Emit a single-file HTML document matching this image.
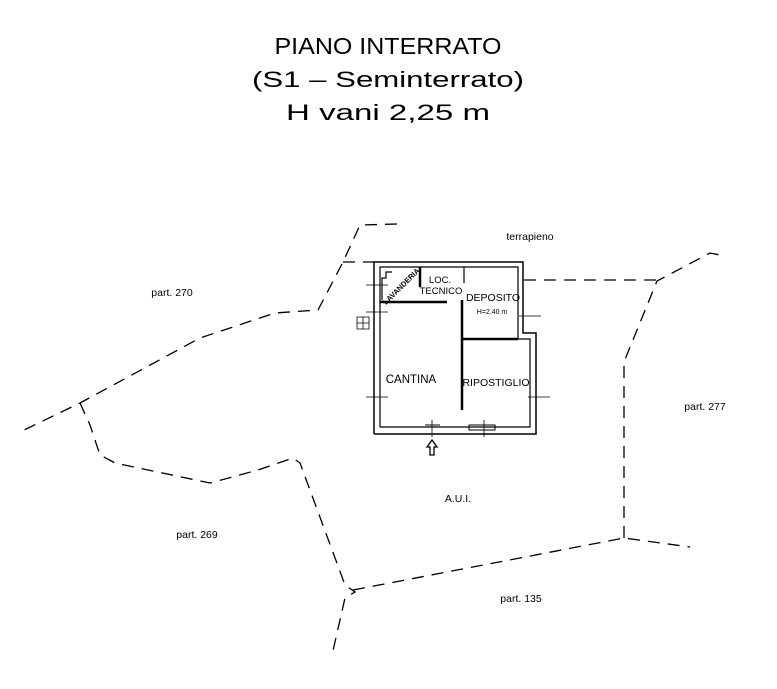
<!DOCTYPE html>
<html><head><meta charset="utf-8"><style>html,body{margin:0;padding:0;background:#fff}svg{display:block}</style></head>
<body>
<svg width="777" height="689" viewBox="0 0 777 689" xmlns="http://www.w3.org/2000/svg" font-family="Liberation Sans, sans-serif">
<g fill="#000" text-anchor="middle">
<text x="388" y="54" font-size="23" textLength="227" lengthAdjust="spacingAndGlyphs">PIANO  INTERRATO</text>
<text x="388" y="87" font-size="22" textLength="272" lengthAdjust="spacingAndGlyphs">(S1  –  Seminterrato)</text>
<text x="388" y="120" font-size="22" textLength="204" lengthAdjust="spacingAndGlyphs">H  vani  2,25  m</text>
</g>
<g fill="none" stroke="#000" stroke-width="1.3" stroke-dasharray="12,8">
<polyline points="397,224 360,225 343,262 318,310 275,313 200,338 80,403 20,432"/>
<line x1="343" y1="262" x2="375" y2="262"/>
<polyline points="80,403 90,425 100,455 115,463 210,483 258,470 293,458 300,463 345,585 355,592 345,598 332,655"/>
<polyline points="353,590 624,538 690,547"/>
<polyline points="624,538 624,362 657,281 710,253 720,255"/>
<line x1="524" y1="280" x2="657" y2="280"/>
</g>
<g fill="none" stroke="#000">
<polyline stroke-width="1.5" points="374,434 374,262 523,262 523,333 536,333 536,434 374,434"/>
<polyline stroke-width="1.2" points="380,427 380,267 518,267 518,339 530,339 530,427 380,427"/>
<line x1="380" y1="302" x2="447" y2="302" stroke-width="2.5"/>
<line x1="420" y1="267" x2="420" y2="287" stroke-width="2.5"/>
<line x1="464" y1="267" x2="464" y2="283" stroke-width="1.2"/>
<line x1="462" y1="300" x2="462" y2="410" stroke-width="2.5"/>
<line x1="462" y1="339" x2="518" y2="339" stroke-width="2.5"/>
<polyline stroke-width="1.2" points="382,300 382,278 386,278 386,272 392,272"/>
<rect x="469" y="425" width="26" height="5" stroke-width="1"/>
<line x1="425" y1="425" x2="440" y2="425" stroke-width="1"/>
<g stroke-width="0.8">
<line x1="366" y1="285" x2="388" y2="285"/><line x1="374" y1="278" x2="374" y2="292"/>
<line x1="366" y1="312" x2="388" y2="312"/>
<line x1="366" y1="397" x2="388" y2="397"/><line x1="374" y1="390" x2="374" y2="404"/>
<line x1="519" y1="316" x2="541" y2="316"/><line x1="523" y1="309" x2="523" y2="323"/>
<line x1="528" y1="397" x2="550" y2="397"/><line x1="536" y1="390" x2="536" y2="404"/>
<line x1="484" y1="420" x2="484" y2="437"/><line x1="432" y1="420" x2="432" y2="437"/>
<path d="M357,317 h12 v12 h-12 z M357,323 h12 M363,317 v12"/>
</g>
<path d="M432,440 l-5,7 h3 v8 h4 v-8 h3 z" stroke-width="1.3"/>
</g>
<g fill="#000" font-size="10.5">
<text x="401" y="289" font-size="7.5" font-weight="bold" transform="rotate(-45 401 286)" text-anchor="middle">LAVANDERIA</text>
<text x="440" y="283" text-anchor="middle" font-size="9.5">LOC.</text>
<text x="441" y="294" text-anchor="middle" font-size="9.5">TECNICO</text>
<text x="493" y="301" text-anchor="middle">DEPOSITO</text>
<text x="492" y="314" text-anchor="middle" font-size="7">H=2.40  m</text>
<text x="411" y="383" text-anchor="middle" font-size="11.5">CANTINA</text>
<text x="496" y="386" text-anchor="middle">RIPOSTIGLIO</text>
<text x="530" y="240" text-anchor="middle">terrapieno</text>
<text x="172" y="296" text-anchor="middle">part.  270</text>
<text x="705" y="410" text-anchor="middle">part.  277</text>
<text x="197" y="538" text-anchor="middle">part.  269</text>
<text x="521" y="602" text-anchor="middle">part.  135</text>
<text x="458" y="502" text-anchor="middle">A.U.I.</text>
</g>
</svg>
</body></html>
